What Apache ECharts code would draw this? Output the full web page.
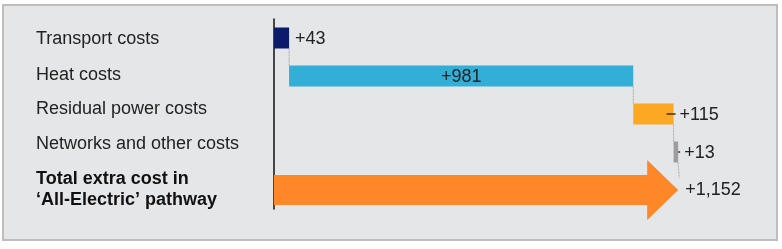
<!DOCTYPE html>
<html><head><meta charset="utf-8">
<script src="https://cdn.jsdelivr.net/npm/echarts@6/dist/echarts.min.js"></script>
<style>html,body{margin:0;padding:0;background:#fff}#c{width:782px;height:249px}</style>
</head><body><div id="c"></div>
<script>
const categories = ['Transport costs', 'Heat costs', 'Residual power costs', 'Networks and other costs', 'Total extra cost in\n‘All-Electric’ pathway'];
const values = [43, 981, 115, 13, 1152];
const valueLabels = ['+43', '+981', '+115', '+13', '+1,152'];
const colors = ['#0b1a6b', '#33aed6', '#fda823', '#9c9c9c', '#fe8827'];
const insideLabel = [false, true, false, false, false];
const leaderRows = [false, false, true, true, false];

// waterfall start/end from values
const items = [];
let acc = 0;
for (let i = 0; i < values.length - 1; i++) {
  items.push([i, acc, acc + values[i]]);
  acc += values[i];
}
items.push([values.length - 1, 0, values[values.length - 1]]);

const FONT = '"Liberation Sans", Arial, sans-serif';
const lbl = {fontFamily: FONT, fontSize: 18, color: '#222'};
const chart = echarts.init(document.getElementById('c'), null, {renderer: 'canvas'});
chart.setOption({
  animation: false,
  backgroundColor: '#ffffff',
  graphic: [{
    type: 'rect', z: -10, silent: true,
    shape: {x: 3, y: 5, width: 774, height: 235},
    style: {fill: '#e5e6e8', stroke: '#bdbdbd', lineWidth: 2}
  }],
  grid: {left: 274, top: 19, width: 421, height: 190, containLabel: false},
  xAxis: {type: 'value', min: 0, max: 1200, show: false},
  yAxis: {
    type: 'category', data: categories, inverse: true,
    axisLine: {show: true, lineStyle: {color: '#111', width: 1.5}},
    axisTick: {show: false},
    axisLabel: {
      margin: 238, align: 'left', fontFamily: FONT, fontSize: 18, color: '#222',
      formatter: (v, i) => i === categories.length - 1 ? '{b|' + v.replace('\n', '}\n{b|') + '}' : '{r' + i + '|' + v + '}',
      rich: {
        r0: Object.assign({padding: [2, 0, 0, 0]}, lbl),
        r1: Object.assign({padding: [0, 0, 2, 0]}, lbl),
        r2: Object.assign({padding: [0, 0, 9, 0]}, lbl),
        r3: Object.assign({padding: [0, 0, 15, 0]}, lbl),
        b: {fontWeight: 'bold', fontSize: 18, fontFamily: FONT, color: '#111', lineHeight: 21}
      }
    },
    splitLine: {show: false}
  },
  series: [{
    type: 'custom',
    data: items,
    encode: {x: [1, 2], y: 0},
    renderItem: function (params, api) {
      const idx = api.value(0);
      const s = api.coord([api.value(1), idx]);
      const e = api.coord([api.value(2), idx]);
      const band = api.size([0, 1])[1];
      const cy = s[1];
      const children = [];
      const isTotal = idx === values.length - 1;
      const font = '18px ' + FONT;
      if (!isTotal) {
        const h = 21;
        children.push({type: 'rect', shape: {x: s[0], y: cy - h / 2, width: e[0] - s[0], height: h},
          style: {fill: colors[idx]}});
        // connector to next row
        const last = idx === values.length - 2;
        children.push({type: 'line', shape: {x1: e[0], y1: cy + h / 2, x2: e[0] + (last ? 1 : 0), y2: cy + band - (last ? 12 : h / 2)},
          style: {stroke: '#aaaaaa', lineWidth: 1, lineDash: [2, 1]}});
        if (leaderRows[idx]) {
          children.push({type: 'line', shape: {x1: e[0] - (idx === 2 ? 7 : 0), y1: cy, x2: e[0] + 2, y2: cy},
            style: {stroke: 'rgba(60,50,30,0.75)', lineWidth: 2}});
        }
        if (insideLabel[idx]) {
          children.push({type: 'text', style: {x: (s[0] + e[0]) / 2, y: cy + 1, text: valueLabels[idx],
            align: 'center', verticalAlign: 'middle', font: font, fill: '#222'}});
        } else {
          children.push({type: 'text', style: {x: e[0] + 6, y: cy + 1, text: valueLabels[idx],
            align: 'left', verticalAlign: 'middle', font: font, fill: '#222'}});
        }
      } else {
        const bh = 15, hh = 30, hl = 31;
        const x0 = s[0], tip = e[0];
        children.push({type: 'polygon', shape: {points: [
          [x0, cy - bh], [tip - hl, cy - bh], [tip - hl, cy - hh], [tip, cy],
          [tip - hl, cy + hh], [tip - hl, cy + bh], [x0, cy + bh]]},
          style: {fill: colors[idx]}});
        children.push({type: 'text', style: {x: tip + 7, y: cy, text: valueLabels[idx],
          align: 'left', verticalAlign: 'middle', font: font, fill: '#222'}});
      }
      return {type: 'group', children: children};
    }
  }]
});
</script></body></html>
